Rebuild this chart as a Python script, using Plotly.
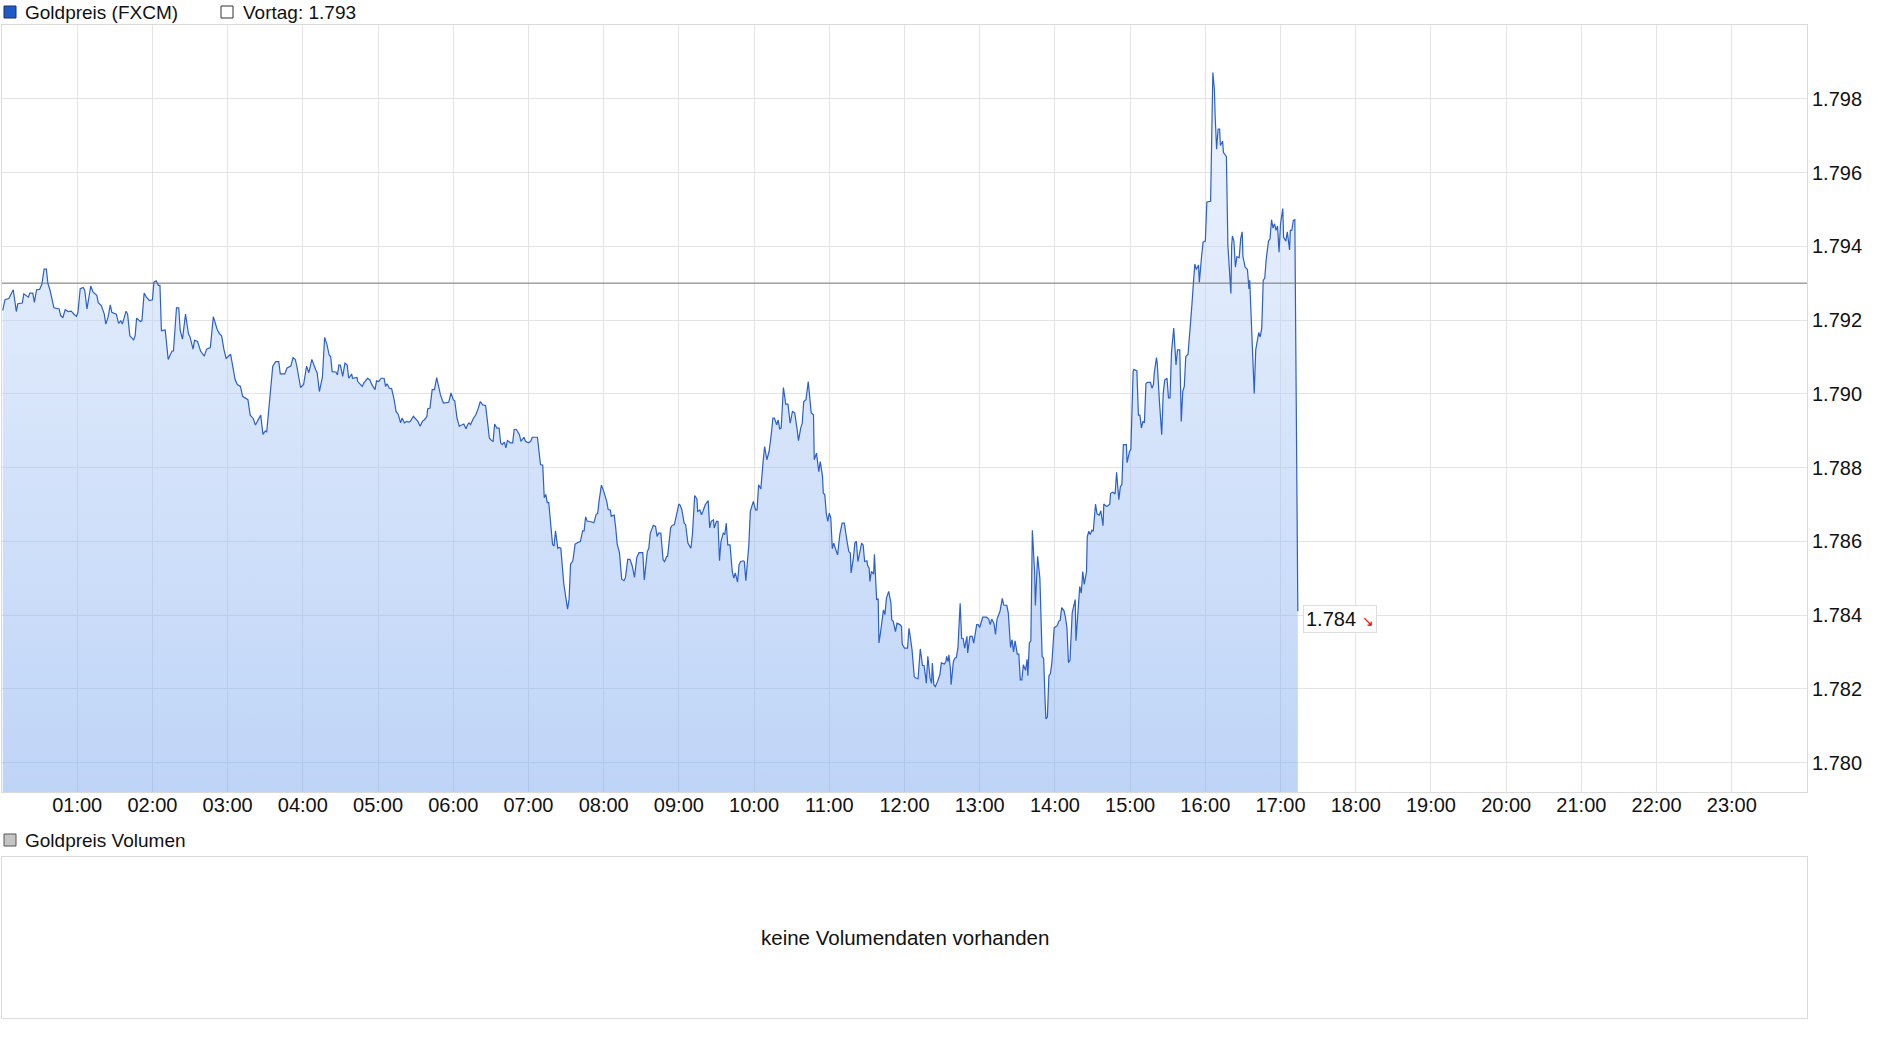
import plotly.graph_objects as go

# Intraday gold price, hours since midnight
hours = [
    0.01, 0.04, 0.09, 0.15, 0.19, 0.21, 0.27, 0.29, 0.35, 0.37, 0.41, 0.43, 0.46, 0.50, 0.53, 0.56, 0.59, 0.61, 0.64, 0.69,
    0.76, 0.78, 0.81, 0.84, 0.88, 0.92, 0.96, 0.99, 1.01, 1.04, 1.08, 1.10, 1.13, 1.18, 1.21, 1.26, 1.28, 1.32, 1.36, 1.38,
    1.41, 1.44, 1.46, 1.52, 1.55, 1.58, 1.60, 1.65, 1.67, 1.70, 1.75, 1.77, 1.79, 1.84, 1.86, 1.89, 1.92, 1.96, 2.00, 2.02,
    2.05, 2.08, 2.10, 2.12, 2.17, 2.21, 2.26, 2.28, 2.32, 2.35, 2.37, 2.40, 2.44, 2.48, 2.50, 2.54, 2.56, 2.60, 2.64, 2.69,
    2.72, 2.77, 2.81, 2.86, 2.89, 2.92, 2.95, 2.98, 3.04, 3.07, 3.10, 3.13, 3.17, 3.20, 3.27, 3.30, 3.34, 3.37, 3.41, 3.44,
    3.47, 3.50, 3.52, 3.55, 3.57, 3.60, 3.64, 3.68, 3.70, 3.76, 3.79, 3.84, 3.87, 3.90, 3.92, 3.97, 4.01, 4.05, 4.08, 4.12,
    4.17, 4.19, 4.22, 4.26, 4.29, 4.32, 4.35, 4.37, 4.39, 4.44, 4.46, 4.48, 4.50, 4.53, 4.56, 4.59, 4.61, 4.65, 4.66, 4.72,
    4.73, 4.76, 4.79, 4.81, 4.86, 4.89, 4.92, 4.96, 4.98, 5.01, 5.04, 5.08, 5.10, 5.12, 5.15, 5.18, 5.21, 5.24, 5.27, 5.30,
    5.32, 5.35, 5.38, 5.41, 5.43, 5.47, 5.50, 5.53, 5.56, 5.59, 5.62, 5.65, 5.66, 5.69, 5.72, 5.75, 5.78, 5.81, 5.83, 5.87,
    5.94, 5.97, 6.00, 6.02, 6.05, 6.08, 6.11, 6.14, 6.17, 6.19, 6.21, 6.23, 6.27, 6.30, 6.33, 6.36, 6.39, 6.43, 6.45, 6.48,
    6.51, 6.53, 6.55, 6.58, 6.61, 6.63, 6.65, 6.68, 6.70, 6.72, 6.76, 6.79, 6.81, 6.84, 6.88, 6.90, 6.94, 6.96, 7.00, 7.03,
    7.05, 7.12, 7.14, 7.16, 7.19, 7.21, 7.23, 7.25, 7.27, 7.30, 7.32, 7.34, 7.36, 7.39, 7.41, 7.43, 7.45, 7.47, 7.50, 7.52,
    7.54, 7.56, 7.59, 7.62, 7.65, 7.69, 7.72, 7.74, 7.76, 7.78, 7.83, 7.87, 7.90, 7.92, 7.94, 7.97, 8.00, 8.02, 8.04, 8.06,
    8.09, 8.10, 8.14, 8.16, 8.18, 8.21, 8.24, 8.27, 8.29, 8.32, 8.35, 8.38, 8.41, 8.44, 8.47, 8.52, 8.54, 8.58, 8.60, 8.62,
    8.66, 8.69, 8.71, 8.73, 8.76, 8.79, 8.81, 8.84, 8.85, 8.89, 8.91, 8.94, 8.97, 9.00, 9.02, 9.04, 9.07, 9.09, 9.12, 9.16,
    9.18, 9.21, 9.24, 9.25, 9.28, 9.30, 9.32, 9.35, 9.39, 9.41, 9.43, 9.46, 9.47, 9.50, 9.52, 9.54, 9.56, 9.59, 9.61, 9.63,
    9.65, 9.68, 9.71, 9.73, 9.75, 9.78, 9.80, 9.82, 9.86, 9.87, 9.89, 9.91, 9.93, 9.95, 9.99, 10.02, 10.04, 10.06, 10.09, 10.12,
    10.14, 10.17, 10.20, 10.23, 10.25, 10.27, 10.30, 10.32, 10.34, 10.36, 10.39, 10.41, 10.42, 10.45, 10.48, 10.51, 10.54, 10.57, 10.59, 10.62,
    10.64, 10.66, 10.69, 10.72, 10.74, 10.76, 10.79, 10.80, 10.83, 10.86, 10.88, 10.91, 10.92, 10.94, 10.96, 10.98, 11.00, 11.02, 11.04, 11.06,
    11.08, 11.11, 11.14, 11.17, 11.20, 11.22, 11.24, 11.26, 11.28, 11.29, 11.32, 11.34, 11.36, 11.38, 11.41, 11.43, 11.45, 11.47, 11.50, 11.51,
    11.53, 11.54, 11.56, 11.59, 11.60, 11.63, 11.65, 11.66, 11.68, 11.72, 11.74, 11.76, 11.79, 11.82, 11.83, 11.85, 11.88, 11.90, 11.94, 11.96,
    11.97, 12.00, 12.04, 12.06, 12.08, 12.10, 12.13, 12.15, 12.18, 12.21, 12.24, 12.26, 12.28, 12.29, 12.31, 12.34, 12.36, 12.37, 12.39, 12.41,
    12.44, 12.47, 12.49, 12.53, 12.55, 12.56, 12.58, 12.59, 12.61, 12.62, 12.65, 12.67, 12.69, 12.71, 12.74, 12.76, 12.78, 12.80, 12.83, 12.84,
    12.87, 12.90, 12.92, 12.96, 12.98, 13.00, 13.04, 13.09, 13.12, 13.14, 13.16, 13.19, 13.21, 13.23, 13.27, 13.30, 13.32, 13.36, 13.38, 13.41,
    13.43, 13.45, 13.47, 13.50, 13.52, 13.54, 13.56, 13.58, 13.61, 13.63, 13.64, 13.66, 13.68, 13.70, 13.73, 13.74, 13.77, 13.80, 13.83, 13.85,
    13.87, 13.88, 13.90, 13.92, 13.94, 13.96, 13.99, 14.03, 14.05, 14.07, 14.09, 14.12, 14.14, 14.16, 14.18, 14.20, 14.23, 14.26, 14.27, 14.28,
    14.30, 14.33, 14.35, 14.37, 14.39, 14.42, 14.43, 14.45, 14.47, 14.49, 14.51, 14.54, 14.56, 14.59, 14.61, 14.64, 14.65, 14.68, 14.70, 14.73,
    14.74, 14.77, 14.80, 14.82, 14.85, 14.87, 14.89, 14.91, 14.95, 14.96, 14.99, 15.01, 15.04, 15.05, 15.09, 15.11, 15.13, 15.15, 15.17, 15.19,
    15.21, 15.23, 15.27, 15.29, 15.31, 15.32, 15.35, 15.36, 15.39, 15.42, 15.44, 15.46, 15.49, 15.51, 15.53, 15.55, 15.58, 15.60, 15.61, 15.63,
    15.66, 15.68, 15.70, 15.72, 15.74, 15.77, 15.80, 15.82, 15.84, 15.86, 15.88, 15.91, 15.92, 15.94, 15.95, 15.97, 16.00, 16.02, 16.04, 16.07,
    16.10, 16.12, 16.13, 16.15, 16.17, 16.19, 16.20, 16.23, 16.24, 16.26, 16.28, 16.30, 16.32, 16.34, 16.35, 16.36, 16.38, 16.40, 16.42, 16.45,
    16.47, 16.49, 16.50, 16.53, 16.56, 16.58, 16.59, 16.62, 16.64, 16.65, 16.67, 16.69, 16.71, 16.73, 16.75, 16.77, 16.79, 16.81, 16.84, 16.86,
    16.88, 16.90, 16.92, 16.94, 16.96, 16.98, 17.00, 17.03, 17.04, 17.07, 17.09, 17.12, 17.13, 17.15, 17.17, 17.19, 17.23,
]
prices = [
    1.79226, 1.79255, 1.79258, 1.79282, 1.79223, 1.79244, 1.79246, 1.79271, 1.79262, 1.79273, 1.79273, 1.79248, 1.79282, 1.79283, 1.79297, 1.79338, 1.79338, 1.79299, 1.79280, 1.79233,
    1.79230, 1.79212, 1.79207, 1.79228, 1.79223, 1.79224, 1.79215, 1.79210, 1.79221, 1.79285, 1.79288, 1.79280, 1.79230, 1.79292, 1.79276, 1.79267, 1.79247, 1.79239, 1.79216, 1.79189,
    1.79207, 1.79241, 1.79221, 1.79216, 1.79191, 1.79198, 1.79189, 1.79224, 1.79216, 1.79157, 1.79146, 1.79157, 1.79205, 1.79196, 1.79198, 1.79273, 1.79262, 1.79253, 1.79255, 1.79303,
    1.79306, 1.79294, 1.79294, 1.79171, 1.79173, 1.79093, 1.79116, 1.79116, 1.79233, 1.79233, 1.79171, 1.79148, 1.79216, 1.79162, 1.79154, 1.79121, 1.79145, 1.79142, 1.79116, 1.79102,
    1.79121, 1.79125, 1.79209, 1.79175, 1.79163, 1.79157, 1.79121, 1.79096, 1.79107, 1.79077, 1.79038, 1.79025, 1.79020, 1.78993, 1.78984, 1.78942, 1.78933, 1.78915, 1.78929, 1.78942,
    1.78890, 1.78899, 1.78897, 1.78965, 1.79025, 1.79075, 1.79087, 1.79087, 1.79054, 1.79054, 1.79070, 1.79075, 1.79098, 1.79093, 1.79075, 1.79017, 1.79025, 1.79075, 1.79057, 1.79093,
    1.79066, 1.79057, 1.79006, 1.79045, 1.79153, 1.79134, 1.79105, 1.79101, 1.79060, 1.79059, 1.79051, 1.79078, 1.79077, 1.79047, 1.79083, 1.79078, 1.79042, 1.79053, 1.79042, 1.79044,
    1.79033, 1.79026, 1.79020, 1.79029, 1.79042, 1.79038, 1.79024, 1.79011, 1.79035, 1.79033, 1.79042, 1.79042, 1.79020, 1.79027, 1.79015, 1.79014, 1.78988, 1.78952, 1.78943, 1.78921,
    1.78934, 1.78921, 1.78925, 1.78923, 1.78925, 1.78939, 1.78932, 1.78925, 1.78912, 1.78925, 1.78930, 1.78939, 1.78959, 1.78961, 1.79011, 1.79011, 1.79044, 1.79011, 1.78997, 1.78975,
    1.78977, 1.79002, 1.78984, 1.78981, 1.78934, 1.78912, 1.78914, 1.78918, 1.78905, 1.78916, 1.78921, 1.78916, 1.78934, 1.78943, 1.78959, 1.78979, 1.78970, 1.78968, 1.78934, 1.78880,
    1.78873, 1.78871, 1.78918, 1.78907, 1.78907, 1.78867, 1.78862, 1.78869, 1.78853, 1.78873, 1.78867, 1.78867, 1.78903, 1.78903, 1.78889, 1.78871, 1.78882, 1.78871, 1.78867, 1.78871,
    1.78882, 1.78882, 1.78844, 1.78808, 1.78806, 1.78718, 1.78727, 1.78705, 1.78705, 1.78646, 1.78592, 1.78587, 1.78628, 1.78581, 1.78583, 1.78581, 1.78529, 1.78484, 1.78443, 1.78416,
    1.78443, 1.78538, 1.78547, 1.78592, 1.78596, 1.78599, 1.78628, 1.78628, 1.78666, 1.78655, 1.78653, 1.78650, 1.78673, 1.78675, 1.78711, 1.78752, 1.78736, 1.78723, 1.78709, 1.78686,
    1.78684, 1.78668, 1.78671, 1.78637, 1.78592, 1.78569, 1.78497, 1.78493, 1.78502, 1.78551, 1.78551, 1.78533, 1.78502, 1.78556, 1.78569, 1.78569, 1.78495, 1.78572, 1.78581, 1.78622,
    1.78643, 1.78640, 1.78613, 1.78622, 1.78622, 1.78550, 1.78545, 1.78559, 1.78559, 1.78636, 1.78643, 1.78645, 1.78676, 1.78701, 1.78697, 1.78685, 1.78649, 1.78645, 1.78595, 1.78581,
    1.78618, 1.78724, 1.78715, 1.78681, 1.78685, 1.78672, 1.78681, 1.78699, 1.78710, 1.78636, 1.78654, 1.78658, 1.78636, 1.78654, 1.78654, 1.78547, 1.78600, 1.78622, 1.78618, 1.78649,
    1.78590, 1.78590, 1.78518, 1.78500, 1.78514, 1.78489, 1.78536, 1.78545, 1.78547, 1.78545, 1.78493, 1.78545, 1.78589, 1.78681, 1.78708, 1.78685, 1.78685, 1.78753, 1.78742, 1.78816,
    1.78857, 1.78821, 1.78844, 1.78893, 1.78934, 1.78934, 1.78916, 1.78929, 1.78905, 1.78907, 1.79017, 1.78988, 1.78972, 1.78972, 1.78920, 1.78952, 1.78948, 1.78907, 1.78873, 1.78907,
    1.78920, 1.78979, 1.78984, 1.79033, 1.78988, 1.78948, 1.78943, 1.78821, 1.78839, 1.78789, 1.78816, 1.78776, 1.78731, 1.78726, 1.78676, 1.78654, 1.78676, 1.78663, 1.78580, 1.78595,
    1.78581, 1.78563, 1.78618, 1.78649, 1.78649, 1.78627, 1.78595, 1.78572, 1.78568, 1.78514, 1.78554, 1.78595, 1.78600, 1.78545, 1.78577, 1.78595, 1.78590, 1.78545, 1.78547, 1.78534,
    1.78527, 1.78491, 1.78518, 1.78511, 1.78565, 1.78441, 1.78444, 1.78324, 1.78351, 1.78414, 1.78401, 1.78446, 1.78464, 1.78432, 1.78387, 1.78383, 1.78355, 1.78378, 1.78374, 1.78369,
    1.78321, 1.78310, 1.78310, 1.78364, 1.78337, 1.78306, 1.78233, 1.78229, 1.78227, 1.78308, 1.78263, 1.78263, 1.78233, 1.78215, 1.78288, 1.78229, 1.78215, 1.78270, 1.78211, 1.78206,
    1.78220, 1.78238, 1.78270, 1.78267, 1.78274, 1.78288, 1.78274, 1.78292, 1.78256, 1.78211, 1.78274, 1.78283, 1.78285, 1.78310, 1.78432, 1.78337, 1.78336, 1.78310, 1.78342, 1.78297,
    1.78342, 1.78342, 1.78324, 1.78374, 1.78374, 1.78366, 1.78394, 1.78394, 1.78389, 1.78374, 1.78389, 1.78377, 1.78347, 1.78389, 1.78410, 1.78445, 1.78427, 1.78426, 1.78406, 1.78312,
    1.78333, 1.78300, 1.78330, 1.78294, 1.78294, 1.78224, 1.78224, 1.78265, 1.78250, 1.78280, 1.78235, 1.78324, 1.78330, 1.78630, 1.78518, 1.78426, 1.78559, 1.78500, 1.78288, 1.78282,
    1.78165, 1.78118, 1.78123, 1.78235, 1.78241, 1.78271, 1.78365, 1.78371, 1.78383, 1.78386, 1.78420, 1.78412, 1.78394, 1.78365, 1.78271, 1.78277, 1.78406, 1.78442, 1.78442, 1.78330,
    1.78400, 1.78477, 1.78459, 1.78518, 1.78483, 1.78518, 1.78612, 1.78627, 1.78618, 1.78630, 1.78627, 1.78701, 1.78674, 1.78671, 1.78683, 1.78642, 1.78701, 1.78695, 1.78695, 1.78701,
    1.78730, 1.78733, 1.78728, 1.78787, 1.78713, 1.78748, 1.78754, 1.78862, 1.78862, 1.78813, 1.78842, 1.78850, 1.79060, 1.79066, 1.79062, 1.78942, 1.78942, 1.78907, 1.78925, 1.78921,
    1.79027, 1.79031, 1.79031, 1.79015, 1.79025, 1.79054, 1.79098, 1.79084, 1.78978, 1.78889, 1.79001, 1.79037, 1.79042, 1.78989, 1.78989, 1.79113, 1.79178, 1.79119, 1.79078, 1.79119,
    1.79119, 1.78925, 1.79007, 1.79019, 1.79101, 1.79107, 1.79172, 1.79237, 1.79296, 1.79352, 1.79337, 1.79349, 1.79302, 1.79366, 1.79372, 1.79411, 1.79414, 1.79520, 1.79520, 1.79522,
    1.79871, 1.79826, 1.79755, 1.79663, 1.79718, 1.79718, 1.79673, 1.79685, 1.79655, 1.79649, 1.79643, 1.79402, 1.79331, 1.79272, 1.79402, 1.79428, 1.79414, 1.79343, 1.79372, 1.79369,
    1.79420, 1.79439, 1.79372, 1.79343, 1.79337, 1.79284, 1.79308, 1.79166, 1.79054, 1.79001, 1.79119, 1.79143, 1.79166, 1.79154, 1.79178, 1.79308, 1.79313, 1.79366, 1.79414, 1.79420,
    1.79472, 1.79449, 1.79461, 1.79443, 1.79455, 1.79384, 1.79461, 1.79502, 1.79425, 1.79414, 1.79439, 1.79390, 1.79443, 1.79443, 1.79470, 1.79472, 1.78410,
]
assert len(hours) == len(prices), (len(hours), len(prices))

vortag = 1.793
last_price = prices[-1]

hour_ticks = list(range(1, 24))
hour_labels = ["%02d:00" % h for h in hour_ticks]
price_ticks = [1.780, 1.782, 1.784, 1.786, 1.788, 1.790, 1.792, 1.794, 1.796, 1.798]

FONT = "Liberation Sans, Arial, sans-serif"
GRID = "#e3e3e3"
FRAME = "#dadada"

W, H = 1880, 1037
ML, MR, MT, MB = 2, 73, 25, 19
plot_h = H - MT - MB
plot_w = W - ML - MR


def px_y(y):
    # pixel row from top -> paper y
    return (H - MB - y) / plot_h


def px_x(x):
    return (x - ML) / plot_w


fig = go.Figure()

fig.add_trace(go.Scatter(
    x=hours, y=prices,
    mode="lines",
    line=dict(color="#2b5fcb", width=1.2),
    fill="tozeroy",
    fillgradient=dict(
        type="vertical",
        start=1.7792, stop=1.800,
        colorscale=[[0, "rgba(125,169,239,0.5)"], [1, "rgba(226,236,252,0.5)"]],
    ),
    showlegend=False, hoverinfo="skip",
    xaxis="x", yaxis="y",
))

# empty volume panel
fig.add_trace(go.Scatter(x=[], y=[], xaxis="x2", yaxis="y2", showlegend=False))

fig.add_hline(y=vortag, line=dict(color="#707070", width=1))

fig.update_layout(
    width=W, height=H,
    margin=dict(l=ML, r=MR, t=MT, b=MB),
    paper_bgcolor="white", plot_bgcolor="white",
    font=dict(family=FONT, size=20, color="#111111"),
    showlegend=False,
    xaxis=dict(
        range=[0, 24], domain=[0, 1], anchor="y",
        tickvals=hour_ticks, ticktext=hour_labels,
        showgrid=True, gridcolor=GRID, gridwidth=1,
        showline=True, mirror=True, linecolor=FRAME, linewidth=1,
        ticks="", zeroline=False, ticklabelstandoff=-5,
        tickfont=dict(size=20, color="#111111"),
    ),
    yaxis=dict(
        range=[1.7792, 1.800], domain=[px_y(792), 1], anchor="x",
        side="right", tickvals=price_ticks, tickformat=".3f",
        showgrid=True, gridcolor=GRID, gridwidth=1,
        showline=True, mirror=True, linecolor=FRAME, linewidth=1,
        ticks="", zeroline=False, ticklabelstandoff=0,
        tickfont=dict(size=20, color="#111111"),
    ),
    xaxis2=dict(
        range=[0, 1], domain=[0, 1], anchor="y2",
        showgrid=False, showticklabels=False, ticks="", zeroline=False,
        showline=True, mirror=True, linecolor=FRAME, linewidth=1,
    ),
    yaxis2=dict(
        range=[0, 1], domain=[0, px_y(857)], anchor="x2",
        showgrid=False, showticklabels=False, ticks="", zeroline=False,
        showline=True, mirror=True, linecolor=FRAME, linewidth=1,
    ),
)

# legend rows
legend_items = [
    (4, 12, "#1f5bc6", "#1a2f6a", "Goldpreis (FXCM)", 23),
    (221, 12, "white", "#333333", "Vortag: %.3f" % vortag, 241),
    (4, 840, "#c4c4c4", "#555555", "Goldpreis Volumen", 23),
]
for sx, cy, fillc, linec, label, tx in legend_items:
    fig.add_shape(
        type="rect", xref="paper", yref="paper",
        x0=px_x(sx), x1=px_x(sx + 12), y0=px_y(cy + 6), y1=px_y(cy - 6),
        fillcolor=fillc, line=dict(color=linec, width=1),
    )
    fig.add_annotation(
        x=px_x(tx), y=px_y(cy), xref="paper", yref="paper",
        xanchor="left", yanchor="middle", showarrow=False,
        text=label, font=dict(size=19, color="#111111"),
    )

# last price label
fig.add_annotation(
    x=hours[-1], y=last_price, xref="x", yref="y",
    xanchor="left", yanchor="middle", xshift=5, yshift=-8,
    showarrow=False,
    text="%.3f <span style='color:#ee0000;font-size:14px'>↘</span>" % last_price,
    font=dict(size=20, color="#111111"),
    bgcolor="white", bordercolor="#dddddd", borderwidth=1, borderpad=2,
)

fig.add_annotation(
    x=0.5, y=0.5, xref="x2 domain", yref="y2 domain",
    showarrow=False, text="keine Volumendaten vorhanden",
    font=dict(size=20.5, color="#111111"),
)

# page body has a default 8px margin; remove it so the chart sits at the corner
fig.write_html(
    "out.html",
    config={"displayModeBar": False},
    post_script="document.body.style.margin='0px';",
)
